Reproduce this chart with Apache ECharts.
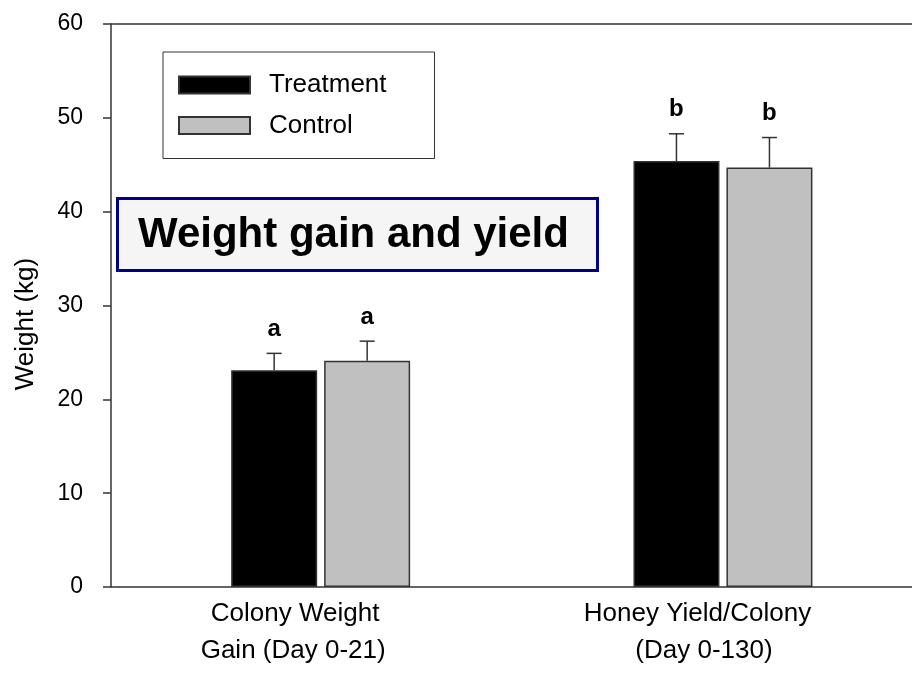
<!DOCTYPE html>
<html>
<head>
<meta charset="utf-8">
<title>Weight gain and yield</title>
<script src="https://cdn.jsdelivr.net/npm/echarts@6/dist/echarts.min.js"></script>
<style>
  html, body { margin: 0; padding: 0; background: #fff; }
  #chart { width: 912px; height: 674px; }
</style>
</head>
<body>
<div id="chart"></div>
<script>
// data
const categories = ['Colony Weight\nGain (Day 0-21)', 'Honey Yield/Colony\n(Day 0-130)'];
const treatment = [23.1, 45.4];
const treatmentErr = [1.8, 2.9];
const treatmentLetters = ['a', 'b'];
const control = [24.1, 44.7];
const controlErr = [2.1, 3.2];
const controlLetters = ['a', 'b'];
const yTicks = [0, 60, 10]; // min, max, step

const FONT = '"Liberation Sans", Arial, sans-serif';
const AXIS = '#333';
const BAR_W = 86;
const HALF = 46.5; // half of bar width + gap

function errSeries(name, means, errs, letters, dx) {
  return {
    name: name,
    type: 'custom',
    data: means.map((m, i) => [i, m, errs[i]]),
    z: 5,
    renderItem: function (params, api) {
      const i = api.value(0);
      const base = api.coord([i, api.value(1)]);
      const top = api.coord([i, api.value(1) + api.value(2)]);
      const x = base[0] + dx;
      return {
        type: 'group',
        children: [
          { type: 'line', shape: { x1: x, y1: base[1], x2: x, y2: top[1] },
            style: { stroke: AXIS, lineWidth: 1.5 } },
          { type: 'line', shape: { x1: x - 7.5, y1: top[1], x2: x + 7.5, y2: top[1] },
            style: { stroke: AXIS, lineWidth: 1.5 } },
          { type: 'text', x: x, y: top[1] - 12,
            style: { text: letters[params.dataIndex], fill: '#000', font: 'bold 24px ' + FONT,
                     textAlign: 'center', textVerticalAlign: 'bottom' } }
        ]
      };
    }
  };
}

const chart = echarts.init(document.getElementById('chart'));
chart.setOption({
  animation: false,
  backgroundColor: '#fff',
  textStyle: { fontFamily: FONT },
  title: {
    text: 'Weight gain and yield',
    left: 117, top: 198,
    padding: [16, 29, 15, 21],
    backgroundColor: '#f5f5f5',
    borderColor: '#000080',
    borderWidth: 3,
    textStyle: { fontSize: 42, fontWeight: 'bold', color: '#000', fontFamily: FONT }
  },
  legend: {
    data: ['Treatment', 'Control'],
    orient: 'vertical',
    left: 163, top: 52,
    padding: [20, 48, 20, 15],
    itemGap: 14.5,
    itemWidth: 71, itemHeight: 17,
    borderColor: AXIS, borderWidth: 1,
    icon: 'rect',
    textStyle: { fontSize: 26, color: '#000', fontFamily: FONT, padding: [0, 0, 0, 14] }
  },
  grid: { left: 119.5, top: 24, bottom: 87, width: 804.6, outerBoundsMode: 'none' },
  xAxis: [
    {
      type: 'category',
      data: categories,
      axisLine: { lineStyle: { color: AXIS, width: 1.5 } },
      axisTick: { show: false },
      axisLabel: {
        margin: 8,
        interval: 0,
        formatter: function (v, idx) {
          const lines = v.split('\n');
          return '{l1|' + lines[0] + '}\n{' + (idx === 0 ? 'l2a' : 'l2b') + '|' + lines[1] + '}';
        },
        rich: {
          l1: { fontSize: 26, lineHeight: 37, color: '#000', fontFamily: FONT, padding: [0, 51, 0, 0] },
          l2a: { fontSize: 26, lineHeight: 37, color: '#000', fontFamily: FONT, padding: [0, 55, 0, 0] },
          l2b: { fontSize: 26, lineHeight: 37, color: '#000', fontFamily: FONT, padding: [0, 38, 0, 0] }
        }
      }
    },
    {
      type: 'category',
      data: categories,
      position: 'top',
      axisLine: { onZero: false, lineStyle: { color: AXIS, width: 1.5 } },
      axisTick: { show: false },
      axisLabel: { show: false }
    }
  ],
  yAxis: [
    {
      type: 'value',
      position: 'left',
      offset: 8.5,
      min: yTicks[0], max: yTicks[1], interval: yTicks[2],
      name: 'Weight (kg)',
      nameLocation: 'middle',
      nameGap: 72,
      nameTextStyle: { fontSize: 26, color: '#000', fontFamily: FONT, padding: [0, 37, 0, 0] },
      axisLine: { show: true, lineStyle: { color: AXIS, width: 1.5 } },
      axisTick: { show: true, length: 8, lineStyle: { color: AXIS, width: 1.5 } },
      axisLabel: { fontSize: 23, color: '#000', margin: 28, fontFamily: FONT },
      splitLine: { show: false }
    },
    {
      type: 'value',
      position: 'left',
      offset: 8.5,
      min: yTicks[0], max: yTicks[1], interval: yTicks[1],
      axisLine: { show: false },
      axisTick: { show: true, inside: true, length: 8.5, lineStyle: { color: AXIS, width: 1.5 } },
      axisLabel: { show: false },
      splitLine: { show: false }
    }
  ],
  series: [
    {
      name: 'Treatment', type: 'bar', data: treatment,
      barWidth: BAR_W, barGap: '8.1%',
      itemStyle: { color: '#000', borderColor: AXIS, borderWidth: 1.5 }
    },
    {
      name: 'Control', type: 'bar', data: control,
      barWidth: BAR_W,
      itemStyle: { color: '#c0c0c0', borderColor: AXIS, borderWidth: 1.5 }
    },
    errSeries('TreatmentErr', treatment, treatmentErr, treatmentLetters, -HALF),
    errSeries('ControlErr', control, controlErr, controlLetters, HALF)
  ]
});
</script>
</body>
</html>
